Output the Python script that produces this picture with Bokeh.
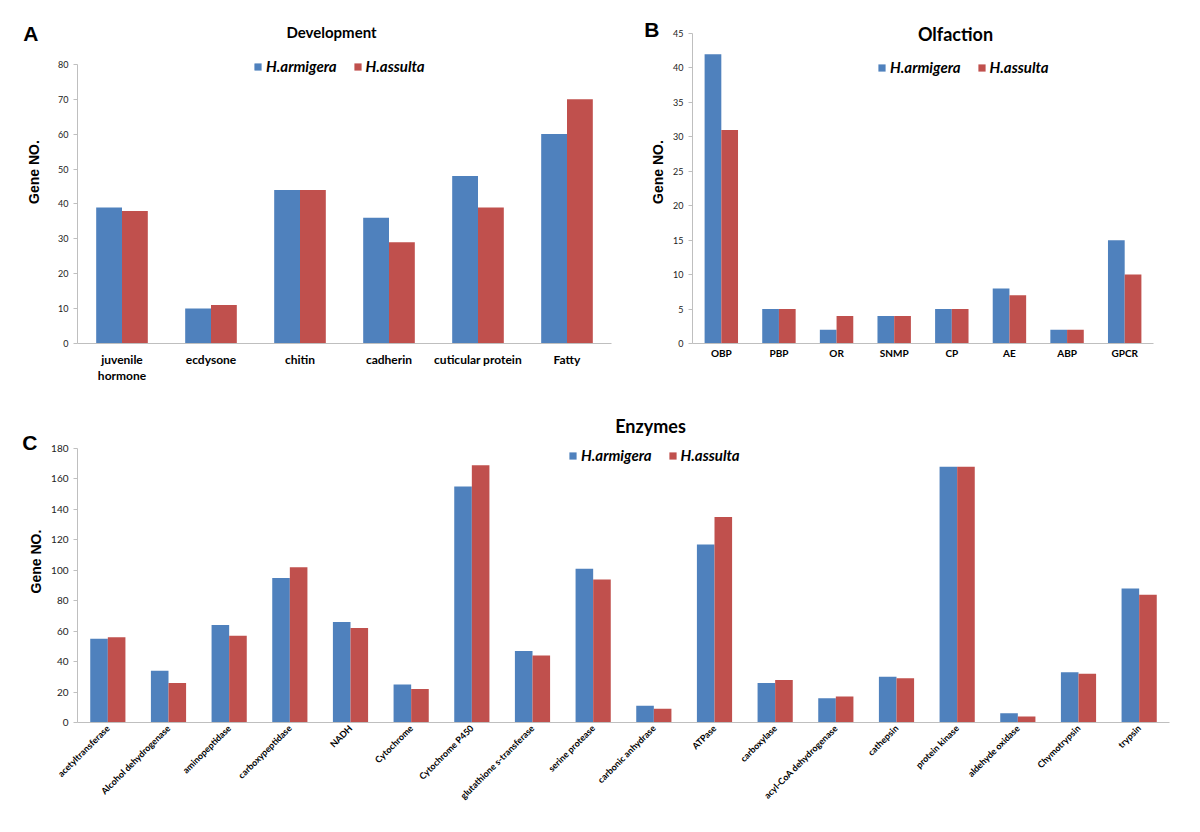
from bokeh.plotting import figure
from bokeh.models import (FactorRange, Range1d, Legend, LegendItem, Label,
                          FixedTicker, ColumnDataSource, LinearAxis)
from bokeh.transform import dodge
from bokeh.layouts import column, row
from bokeh.embed import file_html
from bokeh.resources import INLINE
import math

BLUE = "#4F81BD"
RED = "#C0504D"
AXIS_GRAY = "#BFBFBF"
FONT = "Lato"
ARIAL = "Liberation Sans"

series_names = ["H.armigera", "H.assulta"]

dev_categories = ["juvenile hormone", "ecdysone", "chitin", "cadherin",
                  "cuticular protein", "Fatty"]
dev_tick_labels = ["juvenile\nhormone", "ecdysone", "chitin", "cadherin",
                   "cuticular protein", "Fatty"]
dev_armigera = [39, 10, 44, 36, 48, 60]
dev_assulta = [38, 11, 44, 29, 39, 70]
dev_ticks = [0, 10, 20, 30, 40, 50, 60, 70, 80]

olf_categories = ["OBP", "PBP", "OR", "SNMP", "CP", "AE", "ABP", "GPCR"]
olf_armigera = [42, 5, 2, 4, 5, 8, 2, 15]
olf_assulta = [31, 5, 4, 4, 5, 7, 2, 10]
olf_ticks = [0, 5, 10, 15, 20, 25, 30, 35, 40, 45]

enz_categories = ["acetyltransferase", "Alcohol dehydrogenase", "aminopeptidase",
                  "carboxypeptidase", "NADH", "Cytochrome", "Cytochrome P450",
                  "glutathione s-transferase", "serine protease",
                  "carbonic anhydrase", "ATPase", "carboxylase",
                  "acyl-CoA dehydrogenase", "cathepsin", "protein kinase",
                  "aldehyde oxidase", "Chymotrypsin", "trypsin"]
enz_armigera = [55, 34, 64, 95, 66, 25, 155, 47, 101, 11, 117, 26, 16, 30, 168, 6, 33, 88]
enz_assulta = [56, 26, 57, 102, 62, 22, 169, 44, 94, 9, 135, 28, 17, 29, 168, 4, 32, 84]
enz_ticks = [0, 20, 40, 60, 80, 100, 120, 140, 160, 180]


def style_x_axis(ax, font_size, standoff, line=True):
    ax.axis_line_color = AXIS_GRAY if line else None
    ax.major_tick_line_color = None
    ax.minor_tick_line_color = None
    ax.major_tick_out = 0
    ax.major_tick_in = 0
    ax.major_label_text_font = FONT
    ax.major_label_text_font_style = "bold"
    ax.major_label_text_font_size = font_size
    ax.major_label_text_color = "black"
    ax.major_label_standoff = standoff


def make_panel(cats, arm, ass, ticks, width, height, borders, frame_h, top_px,
               letter, letter_px, letter_standoff,
               title, title_xy, title_size, legend_xy, tick_font, xlabel_font,
               axis_label_standoff, xlabel_standoff, xlabel_orientation=None,
               wrapped_labels=None, second_standoff=-2):
    bl, br, bt, bb = borders
    n = len(cats)
    # the frame spans the full panel height; the y axis is bounded to the data ticks
    y_end = ticks[-1] * frame_h / (frame_h - top_px)
    if wrapped_labels:
        # numeric category slots (index + 0.5) so two-line tick labels can be drawn
        x_range = Range1d(0, n)
        x_field = "pos"
        dodge_range = None
    else:
        x_range = FactorRange(*cats, range_padding=0)
        x_field = "cat"
        dodge_range = x_range
    p = figure(width=width, height=height, x_range=x_range,
               y_range=Range1d(0, y_end), output_backend="svg",
               toolbar_location=None, min_border_left=bl, min_border_right=br,
               min_border_top=bt, min_border_bottom=bb,
               x_axis_type=None if wrapped_labels else "auto")
    p.outline_line_color = None
    p.xgrid.grid_line_color = None
    p.ygrid.grid_line_color = None
    p.background_fill_color = "white"
    p.border_fill_color = "white"
    p.extra_y_ranges = {"px": Range1d(0, frame_h)}

    src = ColumnDataSource(dict(cat=cats, pos=[i + 0.5 for i in range(n)], arm=arm, ass=ass))
    r1 = p.vbar(x=dodge(x_field, -0.145, range=dodge_range), top="arm", width=0.29,
                source=src, fill_color=BLUE, line_color=None)
    r2 = p.vbar(x=dodge(x_field, 0.145, range=dodge_range), top="ass", width=0.29,
                source=src, fill_color=RED, line_color=None)

    # y axis
    ya = p.yaxis[0]
    ya.ticker = FixedTicker(ticks=ticks)
    ya.bounds = (ticks[0], ticks[-1])
    ya.axis_line_color = AXIS_GRAY
    ya.major_tick_line_color = AXIS_GRAY
    ya.major_tick_out = 4
    ya.major_tick_in = 0
    ya.minor_tick_line_color = None
    ya.major_label_text_font = FONT
    ya.major_label_text_font_size = tick_font
    ya.major_label_text_color = "#222222"
    ya.major_label_standoff = 5
    ya.axis_label = "Gene NO."
    ya.axis_label_text_font = ARIAL
    ya.axis_label_text_font_style = "bold"
    ya.axis_label_text_font_size = "14px"
    ya.axis_label_text_color = "black"
    ya.axis_label_standoff = axis_label_standoff

    # panel letter, drawn as the only label of an outer, line-less axis
    la = LinearAxis(y_range_name="px", ticker=FixedTicker(ticks=[letter_px]),
                    major_label_overrides={letter_px: letter},
                    axis_line_color=None, major_tick_line_color=None,
                    minor_tick_line_color=None, major_tick_out=0, major_tick_in=0,
                    major_label_standoff=letter_standoff,
                    major_label_text_font=ARIAL, major_label_text_font_style="bold",
                    major_label_text_font_size="21px", major_label_text_color="black")
    p.add_layout(la, "left")

    # x axis
    if wrapped_labels:
        centers = src.data["pos"]
        lines = [lab.split("\n") for lab in wrapped_labels]
        xa = LinearAxis(ticker=FixedTicker(ticks=centers),
                        major_label_overrides={c: l[0] for c, l in zip(centers, lines)})
        style_x_axis(xa, xlabel_font, xlabel_standoff)
        p.add_layout(xa, "below")
        c2 = [c for c, l in zip(centers, lines) if len(l) > 1]
        xb = LinearAxis(ticker=FixedTicker(ticks=c2),
                        major_label_overrides={c: l[1] for c, l in zip(centers, lines) if len(l) > 1})
        style_x_axis(xb, xlabel_font, second_standoff, line=False)
        p.add_layout(xb, "below")
    else:
        xa = p.xaxis[0]
        style_x_axis(xa, xlabel_font, xlabel_standoff)
        if xlabel_orientation is not None:
            xa.major_label_orientation = xlabel_orientation

    # title inside the (extended) frame
    p.add_layout(Label(x=title_xy[0], y=title_xy[1], x_units="screen", y_units="screen",
                       text=title, text_font=FONT, text_font_style="bold",
                       text_font_size=title_size, text_align="center",
                       text_baseline="middle", text_color="black"))

    legend = Legend(items=[LegendItem(label=series_names[0], renderers=[r1]),
                           LegendItem(label=series_names[1], renderers=[r2])],
                    location=legend_xy, orientation="horizontal",
                    padding=0, margin=0, spacing=16, label_standoff=4,
                    glyph_width=9, glyph_height=9, border_line_color=None,
                    background_fill_alpha=0,
                    label_text_font=FONT, label_text_font_style="bold italic",
                    label_text_font_size="15px", label_text_color="black",
                    label_height=18)
    p.add_layout(legend)
    return p


pA = make_panel(dev_categories, dev_armigera, dev_assulta, dev_ticks,
                width=612, height=400, borders=(77, 1, 0, 56), frame_h=344, top_px=64,
                letter="A", letter_px=311, letter_standoff=-15,
                title="Development", title_xy=(254, 312), title_size="15px",
                legend_xy=(176, 268), tick_font="9px", xlabel_font="12px",
                axis_label_standoff=13, xlabel_standoff=8,
                wrapped_labels=dev_tick_labels, second_standoff=-2)

pB = make_panel(olf_categories, olf_armigera, olf_assulta, olf_ticks,
                width=588, height=400, borders=(80, 47, 0, 57), frame_h=343, top_px=33,
                letter="B", letter_px=314, letter_standoff=-12,
                title="Olfaction", title_xy=(263, 310), title_size="18px",
                legend_xy=(185, 267), tick_font="9px", xlabel_font="10px",
                axis_label_standoff=4, xlabel_standoff=3)

pC = make_panel(enz_categories, enz_armigera, enz_assulta, enz_ticks,
                width=1200, height=432, borders=(77, 31, 0, 110), frame_h=322, top_px=48,
                letter="C", letter_px=280, letter_standoff=-12,
                title="Enzymes", title_xy=(573, 297), title_size="18px",
                legend_xy=(491, 258), tick_font="10px", xlabel_font="9px",
                axis_label_standoff=4, xlabel_standoff=4,
                xlabel_orientation=math.pi / 4)

layout = column(row(pA, pB, spacing=0), pC, spacing=0)
open("out.html", "w").write(file_html(layout, INLINE))
